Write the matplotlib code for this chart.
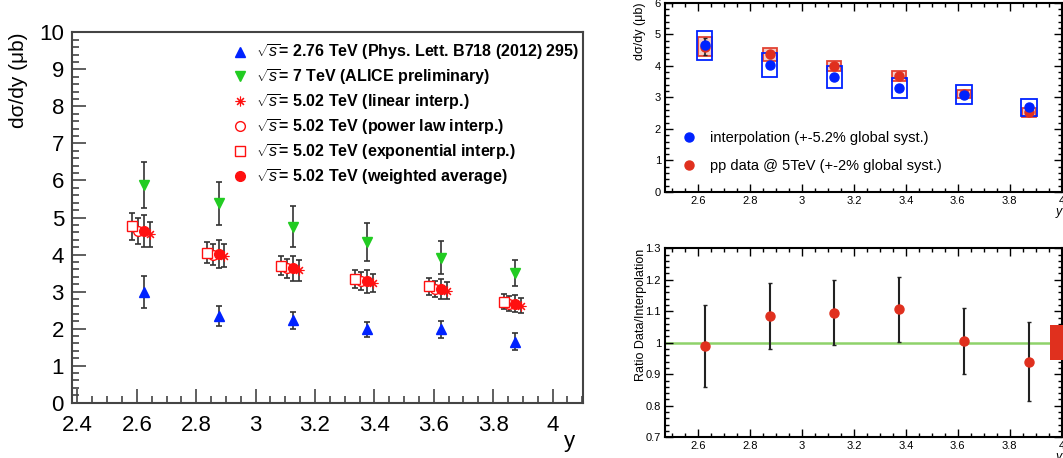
import matplotlib
matplotlib.use("Agg")
import matplotlib.pyplot as plt
from matplotlib.ticker import MultipleLocator, FuncFormatter
from matplotlib.patches import Rectangle
from matplotlib.lines import Line2D
import numpy as np

plt.rcParams['font.family'] = ['Liberation Sans', 'DejaVu Sans']
plt.rcParams['mathtext.fontset'] = 'custom'
plt.rcParams['mathtext.rm'] = 'Liberation Sans'
plt.rcParams['mathtext.it'] = 'Liberation Sans:italic'
plt.rcParams['mathtext.bf'] = 'Liberation Sans:bold'

# rapidity bins
y_bins = np.array([2.625, 2.875, 3.125, 3.375, 3.625, 3.875])
shift = 0.02

# left panel
s276 = [3.0, 2.35, 2.22, 1.98, 1.98, 1.65]
s276_err = [0.43, 0.27, 0.23, 0.21, 0.22, 0.22]
s7 = [5.88, 5.38, 4.75, 4.33, 3.92, 3.5]
s7_err = [0.62, 0.59, 0.55, 0.51, 0.45, 0.36]
lin = [4.55, 3.97, 3.57, 3.23, 3.02, 2.62]
lin_err = [0.34, 0.31, 0.29, 0.25, 0.23, 0.2]
pow_ = [4.63, 4.0, 3.63, 3.28, 3.07, 2.67]
pow_err = [0.35, 0.29, 0.26, 0.24, 0.22, 0.2]
expo = [4.76, 4.05, 3.7, 3.33, 3.14, 2.73]
expo_err = [0.37, 0.29, 0.26, 0.24, 0.23, 0.2]
wavg = [4.64, 4.01, 3.63, 3.28, 3.07, 2.67]
wavg_err = [0.44, 0.37, 0.34, 0.31, 0.28, 0.23]

labels_left = [r'$\sqrt{s}$= 2.76 TeV (Phys. Lett. B718 (2012) 295)',
               r'$\sqrt{s}$= 7 TeV (ALICE preliminary)',
               r'$\sqrt{s}$= 5.02 TeV (linear interp.)',
               r'$\sqrt{s}$= 5.02 TeV (power law interp.)',
               r'$\sqrt{s}$= 5.02 TeV (exponential interp.)',
               r'$\sqrt{s}$= 5.02 TeV (weighted average)']

# right top panel
interp = [4.65, 4.02, 3.65, 3.3, 3.08, 2.68]
interp_syst = [0.46, 0.37, 0.35, 0.31, 0.3, 0.26]
pp5 = [4.6, 4.36, 4.0, 3.67, 3.1, 2.53]
pp5_stat = [0.27, 0.1, 0.08, 0.07, 0.05, 0.06]
pp5_syst = [0.3, 0.2, 0.16, 0.15, 0.13, 0.14]

# right bottom panel
ratio = [0.99, 1.085, 1.096, 1.107, 1.006, 0.94]
ratio_err = [0.13, 0.105, 0.103, 0.103, 0.106, 0.125]
glob_center, glob_halfw, glob_syst = 4.0, 0.045, 0.055

blue = '#0022ff'
green = '#22cc22'
red = '#ff1010'
red2 = '#e0301e'
ecol = '#333333'

fig = plt.figure(figsize=(10.63, 4.58), dpi=100)
fmt = FuncFormatter(lambda v, p: '%g' % round(v, 3))

# ---------------- left panel
ax = fig.add_axes([0.068, 0.1207, 0.480, 0.8088])
eb = dict(fmt='none', ecolor=ecol, elinewidth=1.2, capsize=2, capthick=1.2, zorder=2)
ax.errorbar(y_bins, s276, yerr=s276_err, **eb)
ax.errorbar(y_bins, s7, yerr=s7_err, **eb)
ax.errorbar(y_bins + shift, lin, yerr=lin_err, **eb)
ax.errorbar(y_bins - shift, pow_, yerr=pow_err, **eb)
ax.errorbar(y_bins - 2 * shift, expo, yerr=expo_err, **eb)
ax.errorbar(y_bins, wavg, yerr=wavg_err, **eb)
ax.plot(y_bins, s276, '^', color=blue, ms=7.5, ls='none', zorder=3)
ax.plot(y_bins, s7, 'v', color=green, ms=7.5, ls='none', zorder=3)
ax.plot(y_bins + shift, lin, ls='none', marker=(8, 2, 0), color=red, ms=7, mew=0.8, zorder=3)
ax.plot(y_bins - shift, pow_, 'o', mfc='white', mec=red, ms=7, mew=1, ls='none', zorder=3)
ax.plot(y_bins - 2 * shift, expo, 's', mfc='white', mec=red, ms=7, mew=1, ls='none', zorder=3)
ax.plot(y_bins, wavg, 'o', color=red, ms=7, ls='none', zorder=4)

handles = [Line2D([], [], ls='none', marker='^', color=blue, ms=7.5),
           Line2D([], [], ls='none', marker='v', color=green, ms=7.5),
           Line2D([], [], ls='none', marker=(8, 2, 0), color=red, ms=7, mew=0.8),
           Line2D([], [], ls='none', marker='o', mfc='white', mec=red, ms=7),
           Line2D([], [], ls='none', marker='s', mfc='white', mec=red, ms=7),
           Line2D([], [], ls='none', marker='o', color=red, ms=7)]
ax.legend(handles, labels_left, loc='upper left', bbox_to_anchor=(0.285, 1.012),
          frameon=False, handlelength=1.0, handletextpad=0.5,
          labelspacing=0.31, prop={'weight': 'bold', 'size': 11.5})

ax.set_xlim(2.3825, 4.101)
ax.set_ylim(0, 10)
ax.xaxis.set_major_locator(MultipleLocator(0.2))
ax.xaxis.set_minor_locator(MultipleLocator(0.05))
ax.yaxis.set_major_locator(MultipleLocator(1))
ax.yaxis.set_minor_locator(MultipleLocator(0.2))
ax.xaxis.set_major_formatter(fmt)
ax.tick_params(which='both', direction='in', top=False, right=False, labelsize=16, width=1.2, color='#444444')
ax.tick_params(which='major', length=10)
ax.tick_params(which='minor', length=5)
ax.tick_params(axis='x', pad=9)
ax.tick_params(axis='y', pad=6)
for sp in ax.spines.values():
    sp.set_linewidth(1.5)
    sp.set_color('#444444')
ax.set_ylabel('dσ/dy (μb)', fontsize=15, loc='top', labelpad=8)
ax.set_xlabel('y', fontsize=16, loc='right')
ax.xaxis.set_label_coords(0.985, -0.075)

# ---------------- right top panel
ax1 = fig.add_axes([0.6256, 0.5808, 0.373, 0.4133])
for xc, v, s in zip(y_bins, interp, interp_syst):
    ax1.add_patch(Rectangle((xc - 0.03, v - s), 0.06, 2 * s, fill=False, ec=blue, lw=1.3, zorder=2))
for xc, v, s in zip(y_bins, pp5, pp5_syst):
    ax1.add_patch(Rectangle((xc - 0.027, v - s), 0.054, 2 * s, fc='#f6c8c0', ec=red2, lw=1.3, alpha=0.9, zorder=1))
ax1.errorbar(y_bins, pp5, yerr=pp5_stat, fmt='o', color=red2, ms=6.5, ecolor='#222222',
             elinewidth=1.2, capsize=1.5, zorder=3)
ax1.plot(y_bins, interp, 'o', color=blue, ms=6.5, ls='none', zorder=4)
h1 = [Line2D([], [], ls='none', marker='o', color=blue, ms=6.5),
      Line2D([], [], ls='none', marker='o', color=red2, ms=6.5)]
ax1.legend(h1, ['interpolation (+-5.2% global syst.)', 'pp data @ 5TeV (+-2% global syst.)'],
           loc='upper left', bbox_to_anchor=(0.01, 0.39), frameon=False, fontsize=10.5,
           handlelength=1.0, handletextpad=0.9, labelspacing=0.95)
ax1.set_xlim(2.472, 4.0)
ax1.set_ylim(0, 6)
ax1.xaxis.set_major_locator(MultipleLocator(0.2))
ax1.xaxis.set_minor_locator(MultipleLocator(0.05))
ax1.yaxis.set_major_locator(MultipleLocator(1))
ax1.yaxis.set_minor_locator(MultipleLocator(0.2))
ax1.xaxis.set_major_formatter(fmt)
ax1.set_ylabel('dσ/dy (μb)', fontsize=9, loc='top', labelpad=6)
ax1.set_xlabel('y', fontsize=9, loc='right', labelpad=0, style='italic')

# ---------------- right bottom panel
ax2 = fig.add_axes([0.6256, 0.0452, 0.373, 0.4127])
ax2.axhline(1.0, color='#8fd26a', lw=1.8, zorder=1)
ax2.errorbar(y_bins, ratio, yerr=ratio_err, fmt='o', color=red2, ms=6.5, ecolor='#222222',
             elinewidth=1.5, capsize=1.5, zorder=3)
ax2.add_patch(Rectangle((glob_center - glob_halfw, 1 - glob_syst), 2 * glob_halfw, 2 * glob_syst,
                        fc=red2, ec='none', clip_on=False, zorder=5))
ax2.set_xlim(2.472, 4.0)
ax2.set_ylim(0.7, 1.3)
ax2.xaxis.set_major_locator(MultipleLocator(0.2))
ax2.xaxis.set_minor_locator(MultipleLocator(0.05))
ax2.yaxis.set_major_locator(MultipleLocator(0.1))
ax2.yaxis.set_minor_locator(MultipleLocator(0.02))
ax2.xaxis.set_major_formatter(fmt)
ax2.yaxis.set_major_formatter(fmt)
ax2.set_ylabel('Ratio Data/Interpolation', fontsize=9, loc='top', labelpad=-1)
ax2.set_xlabel('y', fontsize=9, loc='right', labelpad=0, style='italic')

for a in (ax1, ax2):
    a.tick_params(which='both', direction='in', top=True, right=True, labelsize=8, width=1.0)
    a.tick_params(which='major', length=6, pad=3)
    a.tick_params(which='minor', length=3)
    for sp in a.spines.values():
        sp.set_linewidth(1.5)

fig.savefig('out.png', dpi=100)
